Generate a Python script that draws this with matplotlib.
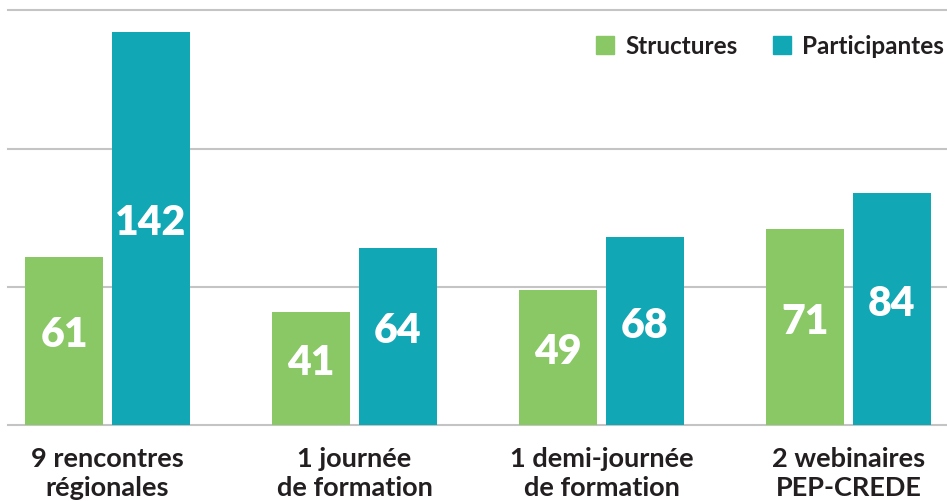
import numpy as np
import matplotlib
matplotlib.use("Agg")
import matplotlib.pyplot as plt
from matplotlib.patches import Patch

# data
categories = ["9 rencontres\nrégionales", "1 journée\nde formation",
              "1 demi-journée\nde formation", "2 webinaires\nPEP-CREDE"]
structures = [61, 41, 49, 71]
participantes = [142, 64, 68, 84]

green = "#8ac866"
teal = "#12a7b5"
dark = "#231f20"
grid = "#c4c4c4"

plt.rcParams['font.family'] = ['Lato', 'DejaVu Sans']

fig = plt.figure(figsize=(9.47, 5.01), dpi=100)
ax = fig.add_axes([8/947, 1 - 425.3/501, 938/947, (425.3 - 10.3)/501])

x = np.arange(len(categories))
w = 0.316
off = 0.176
b1 = ax.bar(x - off, structures, w, color=green, zorder=3)
b2 = ax.bar(x + off, participantes, w, color=teal, zorder=3)

# value labels inside the bars
for bars, vals in [(b1, structures), (b2, participantes)]:
    for r, v in zip(bars, vals):
        ax.text(r.get_x() + r.get_width()/2, v/2 + 2, str(v), ha='center', va='center',
                color='white', fontsize=29.5, fontweight='heavy', zorder=4)

ax.set_xlim(-0.403, 3.395)
ax.set_ylim(0, 150)
ax.set_yticks([0, 50, 100, 150])
ax.yaxis.grid(True, color=grid, linewidth=1.5, zorder=0)
ax.tick_params(axis='y', left=False, labelleft=False)
ax.tick_params(axis='x', bottom=False, pad=12)
ax.set_xticks(x)
ax.set_xticklabels(categories, fontsize=19.5, fontweight='bold', color=dark, linespacing=1.25)
for s in ax.spines.values():
    s.set_visible(False)
for gl in ax.get_ygridlines():
    gl.set_clip_on(False)

handles = [Patch(color=green, label="Structures"), Patch(color=teal, label="Participantes")]
leg = ax.legend(handles=handles, loc='upper right', bbox_to_anchor=(1.008, 0.965), ncol=2,
                frameon=False, handlelength=0.75, handleheight=0.75, handletextpad=0.45,
                columnspacing=1.45, borderaxespad=0.0, prop={'size': 17.5, 'weight': 'bold'})
for t in leg.get_texts():
    t.set_color(dark)

fig.savefig("out.png", dpi=100)
